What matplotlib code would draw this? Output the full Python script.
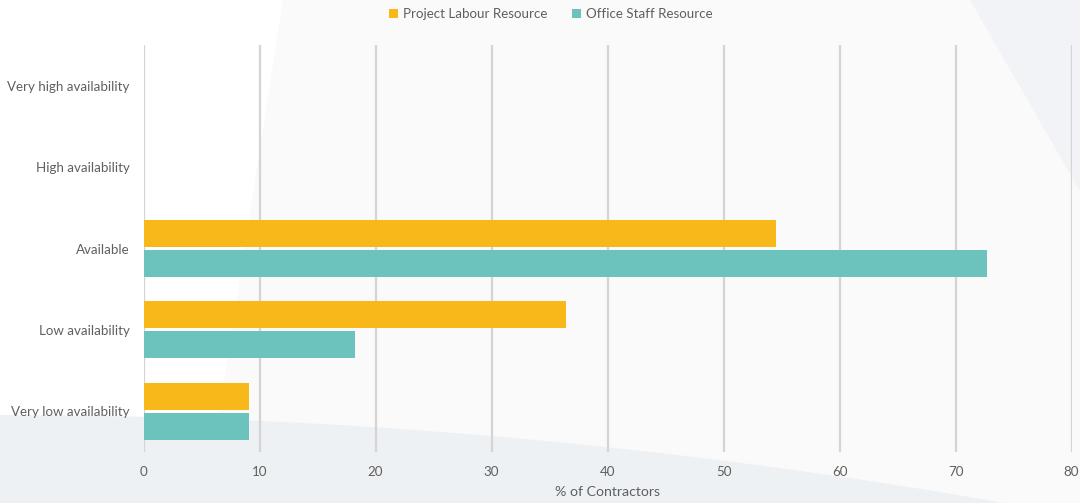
import numpy as np
import matplotlib.pyplot as plt
from matplotlib.patches import Polygon

categories = ['Very high availability', 'High availability', 'Available',
              'Low availability', 'Very low availability']
project_labour = [0, 0, 54.5, 36.4, 9.1]
office_staff = [0, 0, 72.7, 18.2, 9.1]
series_names = ['Project Labour Resource', 'Office Staff Resource']
colors = ['#F8B819', '#6CC2BD']
xticks = [0, 10, 20, 30, 40, 50, 60, 70, 80]

plt.rcParams['font.family'] = ['Lato', 'DejaVu Sans']
text_col = '#5f5f5f'

fig = plt.figure(figsize=(10.8, 5.03), dpi=100)
fig.patch.set_facecolor('#fafafb')

# soft background shapes, kept behind the axes
def bg_shape(pts, color):
    fig.patches.append(Polygon(pts, closed=True, transform=fig.transFigure,
                               facecolor=color, edgecolor='none', zorder=-10))

bg_shape([(0, 1), (0.262, 1), (0.19, 0), (0, 0)], '#ffffff')
xs = np.linspace(0, 0.93, 60)
curve = np.clip(0.175 - 0.175 * (xs / 0.93) ** 2, 0, None)
bg_shape([(0, 0)] + list(zip(xs, curve)), '#eef1f4')
bg_shape([(0.898, 1), (1, 1), (1, 0.62)], '#f2f3f7')

ax = fig.add_axes([0.1329, 0.1014, 0.8593, 0.8091])
ax.set_facecolor('none')

y = np.arange(len(categories))[::-1]
h = 0.33
off = 0.184
ax.barh(y + off, project_labour, height=h, color=colors[0],
        linewidth=0, label=series_names[0], zorder=3)
ax.barh(y - off, office_staff, height=h, color=colors[1],
        linewidth=0, label=series_names[1], zorder=3)

ax.set_xlim(0, 80)
ax.set_ylim(-0.5, len(categories) - 0.5)
ax.set_xticks(xticks)
ax.set_yticks(y)
ax.set_yticklabels(categories)
ax.tick_params(axis='both', length=0, colors=text_col, labelsize=9.6)
ax.tick_params(axis='x', pad=10)
ax.tick_params(axis='y', pad=10)
ax.grid(axis='x', color='#d4d4d4', linewidth=1.6, zorder=0)
for s in ax.spines.values():
    s.set_visible(False)
ax.set_xlabel('% of Contractors', color=text_col, fontsize=10.2, labelpad=6)

fig.legend(loc='center', bbox_to_anchor=(0.51, 0.972), ncol=2, frameon=False,
           fontsize=9.6, labelcolor=text_col, handlelength=0.7, handleheight=0.7,
           handletextpad=0.4, columnspacing=1.8)

fig.savefig('out.png', dpi=100, facecolor=fig.get_facecolor())
